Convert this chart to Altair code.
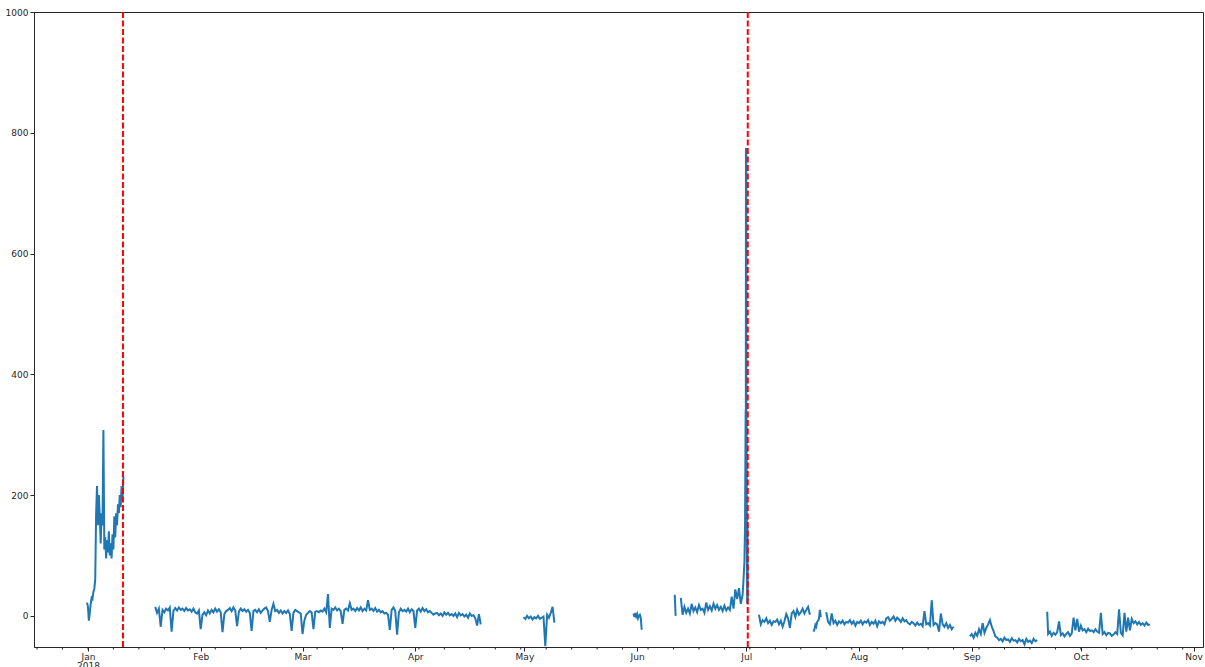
import altair as alt
import pandas as pd

# ---------------- data ----------------
# each segment: start time, step in hours, values
seg1_start, seg1_step = "2017-12-31T18:00", 6
seg1_vals = [22,
             15, -8, 5, 20,
             30, 28, 40, 45,
             60, 170, 215, 150,
             200, 165, 120, 170,
             150, 308, 110, 130,
             95, 125, 105, 140,
             100, 120, 95, 135,
             110, 165, 130, 170,
             150, 185, 170, 200,
             180, 215, 195, 230]

seg2_start, seg2_step = "2018-01-19T12:00", 12
seg2_vals = [15,
             5, 12, -18, 10, 6, 12, 9, 14, -26, 8, 13, 9, 14, 10, 12, 8, 13, 9, 11, 7, 12, 6, 4, 9,
             -22, 2, 6, 1, 9, 4, 10, 6, 12, 7, 11, 6, -27, 3, 8, 10, 13, 8, 14, 9, -17, 7,
             12, 8, 11, 7, 10, 5, -25, 8, 10, 6, 11, 5, 9, 12, 14, 8, -10, 10, 20, 8,
             10, 5, 9, 4, 8, 5, 9, 3, -25, 5, 10, 8, 6, 4,
             -30, -8, 2, 5, 8, 6, -22, 7, 8, 6, 9, 7, 12, 6, 36, -20, 12, 10, 14, 9, 12, 8,
             -13, 10, 12, 9, 21, 10, 12, 8, 13, 9, 14, 8, 12, 9, 26, 10, 12, 8, 13, 7, 10, 6,
             8, 4, 5, 2, -23, 10, 14, 8, -31, 6, 12, 8, 10, 7, 12, 6, 11, 8,
             -20, 9, 12, 7, 13, 8, 11, 6, 8, 5, 2, 4, 5, 1, 4, 0, 6, 2, 5, 1, 3, 0,
             4, -2, 5, 1, 3, -1, 2, -3, 4, 0, 1, -4, -16, 3, -14]

seg3_start, seg3_step = "2018-04-30T18:00", 12
seg3_vals = [-2, -5, 0, -4, -1, -6, -2, -4, 0, -5, -3, -1, -50, 2, -3, 5, 15, -11]

seg4_start, seg4_step = "2018-05-31T00:00", 6
seg4_vals = [4, -2, 5, -1, 3, -4, 0, 2, -3, -23]

seg5a_start, seg5a_step = "2018-06-11T08:00", 6
seg5a_vals = [35, 0]

seg5_start, seg5_step = "2018-06-13T00:00", 12
seg5_vals = [30, 2, 15, 5, 12, 4, 20, 8, 14, 6, 18, 10, 12, 5, 22, 10, 16, 9, 20, 12,
             18, 10, 15, 8, 17, 9, 14, 10, 32, 12, 44, 28, 46, 20, 35]
seg5_tail_times = ["2018-06-30T06:00", "2018-06-30T12:00", "2018-06-30T16:00",
                   "2018-06-30T20:00", "2018-06-30T21:00", "2018-06-30T22:00",
                   "2018-06-30T23:00", "2018-07-01T00:00", "2018-07-01T01:00",
                   "2018-07-01T02:00", "2018-07-01T04:00", "2018-07-01T06:00",
                   "2018-07-01T08:00", "2018-07-01T10:00"]
seg5_tail_vals = [60, 90, 150, 340, 200, 775, 130, 770, 180, 330, 110, 20, 150, 25]

seg6a_start, seg6a_step = "2018-07-04T12:00", 12
seg6a_vals = [2, -14, -7, -10, -4, -12, -8, -15, -9, -10, -6, -14, -8, -18, -9,
              3, -4, -20, 4, 8, -2, 10, 2, 6, 12, 4, 10, 15, 2]

seg6b_start, seg6b_step = "2018-07-19T12:00", 6
seg6b_vals = [-26, -22, -15, -18, -10, -8, -5, 10, -2]

seg6c_start, seg6c_step = "2018-07-23T00:00", 12
seg6c_vals = [6, -10, -14, 4, -12, -8, -15, -9, -12, -8, -14, -10, -11, -7, -13, -9,
              -16, -10, -12, -8, -14, -9, -11, -7, -15, -10, -13, -8, -17, -9, -12, -10,
              -14, -4, -2, -8, -5, -1, -8, -3, -6, -10, -4, -9, -7, -12, -14, -10,
              -12, -16, -11, -15, -13, -17, 8, -14, -12, -16, 26, -15, -12, -14,
              -26, 4, -14, -18, -12, -20, -15, -22, -18]

seg7_start, seg7_step = "2018-08-31T12:00", 12
seg7_vals = [-34, -30, -36, -28, -33, -22, -30, -12, -28, -20, -14, -7, -18, -25, -34,
             -36, -40, -38, -42, -36, -40, -39, -43, -37, -41, -40, -44, -38, -42,
             -40, -47, -38, -43, -41, -45, -38, -42, -40]

seg8_start, seg8_step = "2018-09-21T18:00", 6
seg8_vals_12h_start = "2018-09-22T00:00"
seg8_vals = [7]
seg8b_vals = [-30, -26, -33, -28, -31, -27, -9, -32, -29, -34, -30, -27, -33, -29,
              -3, -24, -5, -26, -16, -24, -22, -27, -21, -25, -24, -27, -22, -26,
              -28, 5, -30, -27, -32, -28, -29, -33, -31, -27, -30, 11, -28, -32,
              5, -26, -3, -24, -5, -12, -9, -14, -10, -15, -12, -16, -11, -15, -14]

events = ["2018-01-10T15:00", "2018-07-01T10:00"]

month_ticks = [1, 2, 3, 4, 5, 6, 7, 8, 9, 10, 11]
y_ticks = [0, 200, 400, 600, 800, 1000]

# ---------------- build table ----------------
rows = []


def add(name, start, step, vals):
    times = pd.date_range(start, periods=len(vals), freq=f"{step}h")
    for t, v in zip(times, vals):
        rows.append({"t": t, "v": v, "seg": name})


add("s1", seg1_start, seg1_step, seg1_vals)
add("s2", seg2_start, seg2_step, seg2_vals)
add("s3", seg3_start, seg3_step, seg3_vals)
add("s4", seg4_start, seg4_step, seg4_vals)
add("s5a", seg5a_start, seg5a_step, seg5a_vals)
add("s5", seg5_start, seg5_step, seg5_vals)
for t, v in zip(seg5_tail_times, seg5_tail_vals):
    rows.append({"t": pd.Timestamp(t), "v": v, "seg": "s5"})
add("s6a", seg6a_start, seg6a_step, seg6a_vals)
add("s6b", seg6b_start, seg6b_step, seg6b_vals)
add("s6c", seg6c_start, seg6c_step, seg6c_vals)
add("s7", seg7_start, seg7_step, seg7_vals)
add("s8", seg8_start, seg8_step, seg8_vals)
add("s8", seg8_vals_12h_start, 12, seg8b_vals)

df = pd.DataFrame(rows)
ev = pd.DataFrame({"t": pd.to_datetime(events)})
minor = pd.DataFrame({"t": pd.date_range("2017-12-18", "2018-10-29", freq="7D")})

W, H = 1169, 635
AX = "#262626"

xscale = alt.Scale(domain=[alt.DateTime(year=2017, month=12, date=17, hours=4),
                           alt.DateTime(year=2018, month=11, date=3, hours=14)])
yscale = alt.Scale(domain=[-51.5, 1000], nice=False, zero=False)

xaxis = alt.Axis(
    values=[alt.DateTime(year=2018, month=m, date=1) for m in month_ticks],
    labelExpr="month(datum.value) == 0 ? [timeFormat(datum.value, '%b'), timeFormat(datum.value, '%Y')] : timeFormat(datum.value, '%b')",
    title=None, grid=False, tickSize=4, labelPadding=1, labelLineHeight=9,
)
yaxis = alt.Axis(values=y_ticks, format="d", title=None, grid=False, tickSize=4, labelPadding=2)

line = alt.Chart(df).mark_line(color="#1f77b4", strokeWidth=2, clip=True).encode(
    x=alt.X("t:T", scale=xscale, axis=xaxis),
    y=alt.Y("v:Q", scale=yscale, axis=yaxis),
    detail="seg:N",
)

vlines = alt.Chart(ev).mark_rule(color="#ff0000", strokeWidth=2, strokeDash=[6, 2.5]).encode(
    x=alt.X("t:T", scale=xscale),
)

minor_ticks = alt.Chart(minor).mark_rule(color=AX, strokeWidth=1).encode(
    x=alt.X("t:T", scale=xscale),
    y=alt.value(H),
    y2=alt.value(H + 2.5),
)

chart = alt.layer(line, vlines, minor_ticks).properties(
    width=W, height=H,
    padding={"left": 34, "top": 12, "right": 2, "bottom": 20},
    autosize=alt.AutoSizeParams(type="none"),
).configure_view(
    stroke=AX, strokeWidth=1
).configure_axis(
    domainColor=AX, tickColor=AX, labelColor=AX,
    labelFont="DejaVu Sans", labelFontSize=9,
)

chart.save("out.html", embed_options={"renderer": "svg", "actions": False})
